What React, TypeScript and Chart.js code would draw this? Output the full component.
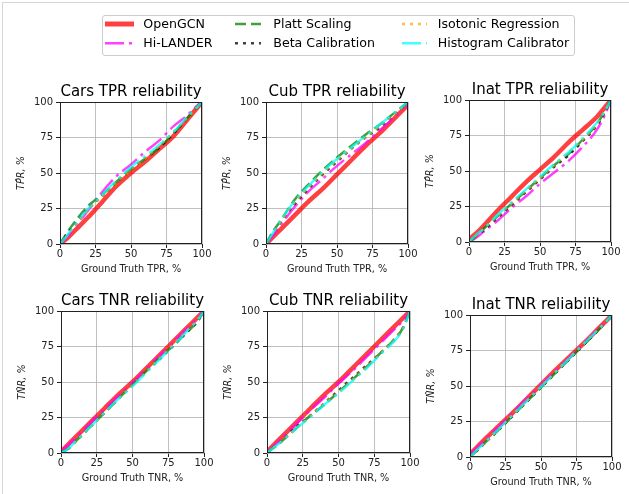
import React, { useEffect, useRef } from "react";
import { Chart, registerables } from "chart.js";

Chart.register(...registerables);

// ---------------- data ----------------
const X = [0, 5, 10, 20, 30, 40, 50, 60, 70, 80, 90, 95, 100];
const axisTicks = [0, 25, 50, 75, 100];

const methodNames = [
  "OpenGCN",
  "Hi-LANDER",
  "Platt Scaling",
  "Beta Calibration",
  "Isotonic Regression",
  "Histogram Calibrator",
];

// Cars TPR
const carsTprOpenGCN = [0, 4, 9, 19, 30, 41, 50, 58, 67, 76, 88, 94, 100];
const carsTprHiLander = [0, 5, 11, 24, 37, 48, 56, 65, 73, 83, 91, 96, 100];
const carsTprPlatt = [0, 8, 15, 27, 35, 44, 53, 60, 68, 78, 89, 95, 100];
const carsTprBeta = [0, 7, 13, 25, 34, 43, 52, 60, 68, 78, 89, 94, 100];
const carsTprIsotonic = [0, 6, 12, 24, 34, 43, 52, 60, 69, 79, 89, 94, 100];
const carsTprHistogram = [0, 6, 13, 25, 35, 45, 54, 62, 70, 79, 90, 95, 100];

// Cub TPR
const cubTprOpenGCN = [0, 5, 10, 20, 30, 39, 49, 59, 69, 78, 88, 93, 98];
const cubTprHiLander = [0, 6, 13, 26, 37, 46, 55, 63, 71, 80, 89, 94, 100];
const cubTprPlatt = [0, 9, 16, 31, 42, 52, 61, 69, 77, 84, 92, 96, 100];
const cubTprBeta = [0, 8, 15, 28, 39, 49, 58, 67, 75, 82, 91, 95, 100];
const cubTprIsotonic = [0, 8, 15, 29, 40, 50, 59, 67, 75, 83, 91, 95, 100];
const cubTprHistogram = [0, 8, 16, 30, 41, 51, 60, 68, 76, 84, 92, 96, 100];

// Inat TPR
const inatTprOpenGCN = [2, 6, 11, 22, 32, 42, 51, 60, 70, 79, 88, 94, 100];
const inatTprHiLander = [0, 3, 7, 15, 24, 32, 41, 49, 57, 67, 79, 88, 100];
const inatTprPlatt = [0, 4, 9, 18, 27, 36, 45, 54, 62, 72, 83, 91, 100];
const inatTprBeta = [0, 4, 8, 17, 26, 35, 44, 53, 61, 71, 82, 90, 100];
const inatTprIsotonic = [0, 4, 9, 18, 27, 36, 45, 54, 63, 72, 83, 91, 100];
const inatTprHistogram = [0, 5, 9, 19, 28, 37, 46, 55, 63, 73, 84, 91, 100];

// Cars TNR
const carsTnrOpenGCN = [1, 6, 11, 21, 31, 41, 50, 60, 70, 80, 90, 95, 100];
const carsTnrHiLander = [1, 5.5, 10.5, 20.5, 30.5, 40, 49.5, 59.5, 69.5, 79.5, 89.5, 94.5, 100];
const carsTnrPlatt = [0, 3, 8, 18, 28, 38, 48, 58, 68, 77, 87, 92, 100];
const carsTnrBeta = [0, 3, 8, 18, 28, 38, 48, 58, 67, 77, 87, 92, 100];
const carsTnrIsotonic = [0, 3, 8, 18, 28, 38, 48, 58, 68, 78, 88, 93, 100];
const carsTnrHistogram = [0, 3, 8, 18, 28, 38, 47, 57, 67, 77, 88, 93, 100];

// Cub TNR
const cubTnrOpenGCN = [1, 6, 11, 21, 31, 41, 50, 60, 70, 80, 90, 95, 100];
const cubTnrHiLander = [0, 5, 10, 20, 30, 39, 49, 58, 68, 78, 88, 93, 100];
const cubTnrPlatt = [0, 4, 8, 17, 26, 34, 43, 52, 61, 71, 81, 88, 100];
const cubTnrBeta = [0, 4, 8, 18, 26, 35, 44, 53, 62, 71, 81, 88, 100];
const cubTnrIsotonic = [0, 4, 8, 17, 26, 35, 43, 52, 61, 71, 81, 88, 100];
const cubTnrHistogram = [0, 4, 8, 17, 25, 34, 42, 51, 60, 70, 80, 87, 100];

// Inat TNR
const inatTnrOpenGCN = [2, 7, 12, 21.5, 31, 41, 51, 61, 70.5, 80, 90, 95, 100];
const inatTnrHiLander = [1.5, 6.5, 11.5, 21, 31, 41, 50.5, 60.5, 70, 80, 90, 95, 100];
const inatTnrPlatt = [0, 4.5, 9.5, 19, 29, 39, 49, 59, 69, 79, 89, 94.5, 100];
const inatTnrBeta = [0, 4.5, 9.5, 19, 29, 39, 49, 59, 69, 79, 89, 94.5, 100];
const inatTnrIsotonic = [0, 5, 9.5, 19.5, 29.5, 39.5, 49.5, 59.5, 69.5, 79.5, 89.5, 94.5, 100];
const inatTnrHistogram = [0, 5, 10, 19.5, 29.5, 39.5, 49.5, 59.5, 69.5, 79.5, 89.5, 94.5, 100];

// ---------------- styles ----------------
const seriesStyles = [
  { color: "rgba(255,0,0,0.75)", width: 4.5, dash: [] as number[] },
  { color: "rgba(255,0,255,0.75)", width: 2.5, dash: [19, 5, 3, 5] },
  { color: "rgba(0,128,0,0.75)", width: 2.5, dash: [11, 5] },
  { color: "rgba(0,0,0,0.75)", width: 2.5, dash: [3, 5] },
  { color: "rgba(255,165,0,0.75)", width: 2.5, dash: [3, 5] },
  { color: "rgba(0,255,255,0.75)", width: 2.5, dash: [19, 5, 3, 5] },
];

const FONT = "DejaVu Sans";

type Box = { l: number; t: number; w: number; h: number };

const framePlugin = {
  id: "frame",
  afterDatasetsDraw(chart: any) {
    const { ctx, chartArea: a } = chart;
    ctx.save();
    ctx.strokeStyle = "#222";
    ctx.lineWidth = 1;
    const l = Math.round(a.left) + 0.5;
    const t = Math.round(a.top) + 0.5;
    const r = Math.round(a.right) - 0.5;
    const b = Math.round(a.bottom) - 0.5;
    ctx.strokeRect(l, t, r - l, b - t);
    ctx.restore();
  },
};

function Subplot(props: {
  box: Box;
  title: string;
  xTitle: string;
  yTitle: string;
  series: number[][];
}) {
  const { box, title, xTitle, yTitle, series } = props;
  const ref = useRef<HTMLCanvasElement>(null);
  const W = 60 + box.w + 20;
  const H = 32 + box.h + 40;

  useEffect(() => {
    const tickFont = { family: FONT, size: 10 };
    const gridOpts = {
      color: "#b0b0b0",
      lineWidth: 0.8,
      tickColor: "#222",
      tickLength: 4,
      tickWidth: 1,
    };
    const chart = new Chart(ref.current as HTMLCanvasElement, {
      type: "line",
      data: {
        datasets: series.map((ys, i) => ({
          label: methodNames[i],
          data: X.map((x, j) => ({ x, y: ys[j] })),
          borderColor: seriesStyles[i].color,
          backgroundColor: seriesStyles[i].color,
          borderWidth: seriesStyles[i].width,
          borderDash: seriesStyles[i].dash,
          pointRadius: 0,
          fill: false,
          cubicInterpolationMode: "monotone",
          order: 10 - i,
          clip: 0,
        })),
      },
      options: {
        responsive: false,
        animation: false,
        devicePixelRatio: 1,
        layout: { padding: { left: 0, right: 20, top: 0, bottom: 0 } },
        plugins: {
          legend: { display: false },
          tooltip: { enabled: false },
          title: {
            display: true,
            text: title,
            fullSize: false,
            color: "#000",
            font: { family: FONT, size: 15, weight: "normal", lineHeight: 1.2 },
            padding: { top: 13, bottom: 1 },
          },
        },
        scales: {
          x: {
            type: "linear",
            min: 0,
            max: 100,
            afterFit: (s: any) => {
              s.height = 40;
            },
            afterBuildTicks: (s: any) => {
              s.ticks = axisTicks.map((v) => ({ value: v }));
            },
            ticks: {
              autoSkip: false,
              maxRotation: 0,
              padding: 0.5,
              color: "#222",
              font: tickFont,
            },
            grid: gridOpts,
            border: { display: false },
            title: {
              display: true,
              text: xTitle,
              color: "#222",
              font: { family: FONT, size: 9.7 },
              padding: { top: 0, bottom: 9 },
            },
          },
          y: {
            type: "linear",
            min: 0,
            max: 100,
            afterFit: (s: any) => {
              s.width = 60;
            },
            afterBuildTicks: (s: any) => {
              s.ticks = axisTicks.map((v) => ({ value: v }));
            },
            ticks: {
              autoSkip: false,
              padding: 3,
              color: "#222",
              font: tickFont,
            },
            grid: gridOpts,
            border: { display: false },
            title: {
              display: true,
              text: yTitle,
              color: "#222",
              font: { family: FONT, size: 9.7, style: "italic" },
              padding: { top: 16, bottom: 0 },
            },
          },
        },
      } as any,
      plugins: [framePlugin],
    });
    return () => chart.destroy();
  }, []);

  return (
    <canvas
      ref={ref}
      width={W}
      height={H}
      style={{
        position: "absolute",
        left: box.l - 60,
        top: box.t - 32,
        width: W,
        height: H,
      }}
    />
  );
}

const legendCols = [
  { x0: 105, x1: 134, tx: 143.3 },
  { x0: 235, x1: 261, tx: 273.3 },
  { x0: 402, x1: 427, tx: 437.7 },
];
const legendRows = [24, 43.3];
// legend order (column-major, 2 rows)
const legendSlots = [
  [0, 0],
  [0, 1],
  [1, 0],
  [1, 1],
  [2, 0],
  [2, 1],
];

function Legend() {
  return (
    <>
      <div
        style={{
          position: "absolute",
          left: 102,
          top: 15,
          width: 473,
          height: 41,
          border: "1px solid #cccccc",
          borderRadius: 3,
          boxSizing: "border-box",
          background: "#fff",
        }}
      />
      <svg
        width={629}
        height={70}
        style={{ position: "absolute", left: 0, top: 0 }}
      >
        {methodNames.map((_, i) => {
          const [c, r] = legendSlots[i];
          const col = legendCols[c];
          const y = legendRows[r];
          const st = seriesStyles[i];
          return (
            <line
              key={i}
              x1={col.x0}
              x2={col.x1}
              y1={y}
              y2={y}
              stroke={st.color}
              strokeWidth={i === 0 ? 5 : 2.6}
              strokeDasharray={st.dash.length ? st.dash.join(" ") : undefined}
            />
          );
        })}
      </svg>
      {methodNames.map((name, i) => {
        const [c, r] = legendSlots[i];
        return (
          <div
            key={name}
            style={{
              position: "absolute",
              left: legendCols[c].tx,
              top: legendRows[r] - 8,
              height: 16,
              lineHeight: "16px",
              fontSize: 12.6,
              fontFamily: FONT,
              color: "#000",
              whiteSpace: "nowrap",
            }}
          >
            {name}
          </div>
        );
      })}
    </>
  );
}

const plots = [
  {
    box: { l: 60, t: 102, w: 142, h: 142 },
    title: "Cars TPR reliability",
    xTitle: "Ground Truth TPR, %",
    yTitle: "TP\u0302R, %",
    series: [carsTprOpenGCN, carsTprHiLander, carsTprPlatt, carsTprBeta, carsTprIsotonic, carsTprHistogram],
  },
  {
    box: { l: 266, t: 102, w: 142, h: 142 },
    title: "Cub TPR reliability",
    xTitle: "Ground Truth TPR, %",
    yTitle: "TP\u0302R, %",
    series: [cubTprOpenGCN, cubTprHiLander, cubTprPlatt, cubTprBeta, cubTprIsotonic, cubTprHistogram],
  },
  {
    box: { l: 469, t: 100, w: 142, h: 142 },
    title: "Inat TPR reliability",
    xTitle: "Ground Truth TPR, %",
    yTitle: "TP\u0302R, %",
    series: [inatTprOpenGCN, inatTprHiLander, inatTprPlatt, inatTprBeta, inatTprIsotonic, inatTprHistogram],
  },
  {
    box: { l: 61, t: 311, w: 143, h: 142 },
    title: "Cars TNR reliability",
    xTitle: "Ground Truth TNR, %",
    yTitle: "TN\u0302R, %",
    series: [carsTnrOpenGCN, carsTnrHiLander, carsTnrPlatt, carsTnrBeta, carsTnrIsotonic, carsTnrHistogram],
  },
  {
    box: { l: 267, t: 311, w: 143, h: 142 },
    title: "Cub TNR reliability",
    xTitle: "Ground Truth TNR, %",
    yTitle: "TN\u0302R, %",
    series: [cubTnrOpenGCN, cubTnrHiLander, cubTnrPlatt, cubTnrBeta, cubTnrIsotonic, cubTnrHistogram],
  },
  {
    box: { l: 470, t: 315, w: 142, h: 142 },
    title: "Inat TNR reliability",
    xTitle: "Ground Truth TNR, %",
    yTitle: "TN\u0302R, %",
    series: [inatTnrOpenGCN, inatTnrHiLander, inatTnrPlatt, inatTnrBeta, inatTnrIsotonic, inatTnrHistogram],
  },
];

export default function App() {
  return (
    <div
      style={{
        position: "absolute",
        left: 0,
        top: 0,
        width: 629,
        height: 494,
        overflow: "hidden",
        background: "#fff",
        fontFamily: FONT,
      }}
    >
      <div
        style={{
          position: "absolute",
          left: 2,
          top: 2,
          width: 700,
          height: 600,
          borderLeft: "1px solid #d6d6d6",
          borderTop: "1px solid #d6d6d6",
        }}
      />
      {plots.map((p, i) => (
        <Subplot key={i} box={p.box} title={p.title} xTitle={p.xTitle} yTitle={p.yTitle} series={p.series} />
      ))}
      <Legend />
    </div>
  );
}
